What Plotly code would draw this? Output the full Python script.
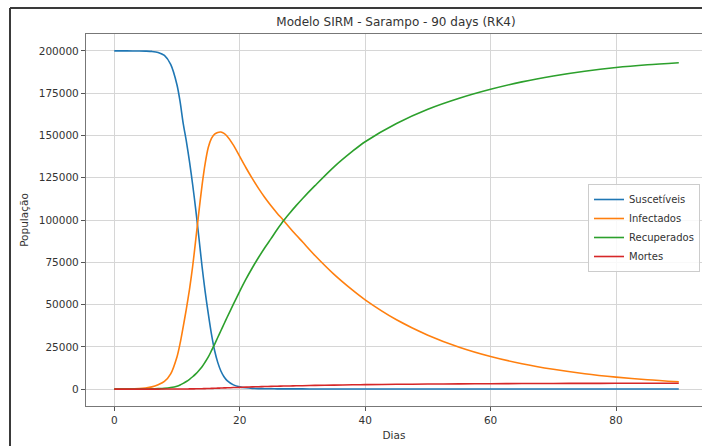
import plotly.graph_objects as go

days = [0, 2, 4, 5, 6, 7, 8, 9, 10, 10.5, 11, 11.5, 12, 12.5, 13, 13.5, 14, 14.5,
        15, 15.5, 16, 16.5, 17, 17.5, 18, 19, 20, 21, 22, 23, 24, 25, 26, 27, 28,
        29, 30, 32, 35, 38, 40, 45, 50, 55, 60, 65, 70, 75, 80, 85, 90]

suscetiveis = [200000, 200000, 199950, 199880, 199700, 199100, 197300, 192000, 180000,
               170000, 157000, 146500, 134500, 121000, 106000, 89500, 72500, 57500,
               44500, 32500, 22800, 15800, 10700, 7300, 5000, 2500, 1300, 750, 430, 290,
               220, 180, 150, 130, 120, 110, 100, 90, 80, 75, 70, 65, 60, 58, 56, 55,
               55, 54, 54, 53, 53]

infectados = [10, 60, 300, 650, 1300, 2600, 4500, 9000, 19000, 27000, 37000, 47500,
              59000, 72500, 88500, 105000, 120500, 133500, 143000, 148300, 150800,
              151800, 152000, 151200, 149500, 144300, 137600, 130900, 124600, 118700,
              113300, 108400, 103900, 99700, 95300, 91100, 87100, 79000, 68000, 58500,
              52800, 41000, 31900, 24800, 19300, 15000, 11700, 9100, 7100, 5500, 4300]

recuperados = [0, 2, 20, 50, 120, 250, 450, 900, 1700, 2400, 3400, 4500, 5800, 7300,
               9000, 11000, 13200, 16000, 19000, 22700, 26500, 30500, 34500, 38500,
               42500, 50200, 57800, 65000, 71600, 77800, 83600, 89000, 94500, 99700,
               104200, 108500, 112600, 120300, 131300, 140700, 146300, 157100, 165500,
               172000, 177300, 181700, 185200, 188000, 190200, 191800, 193000]

mortes = [0, 0, 0, 1, 2, 5, 10, 20, 35, 45, 60, 80, 100, 130, 160, 195, 240, 290, 350,
          410, 480, 550, 620, 690, 760, 900, 1030, 1170, 1290, 1400, 1500, 1590, 1690,
          1790, 1870, 1950, 2020, 2170, 2360, 2530, 2640, 2820, 2970, 3100, 3200, 3280,
          3340, 3390, 3420, 3450, 3470]

series = [("Suscetíveis", suscetiveis, "#1f77b4"),
          ("Infectados", infectados, "#ff7f0e"),
          ("Recuperados", recuperados, "#2ca02c"),
          ("Mortes", mortes, "#d62728")]

xticks = [0, 20, 40, 60, 80]
yticks = [0, 25000, 50000, 75000, 100000, 125000, 150000, 175000, 200000]

FONT = "DejaVu Sans"
TXT = "#333333"

fig = go.Figure()
for name, vals, col in series:
    fig.add_trace(go.Scatter(x=days, y=vals, mode="lines", name=name,
                             line=dict(color=col, width=1.6, shape="spline", smoothing=0.8)))

W, H = 702, 446
L, R, T, B = 86, 0, 34, 40

fig.update_layout(
    width=W, height=H,
    margin=dict(l=L, r=R, t=T, b=B, autoexpand=False),
    paper_bgcolor="white", plot_bgcolor="white",
    font=dict(family=FONT, size=11, color=TXT),
    title=dict(text="Modelo SIRM - Sarampo - 90 days (RK4)",
               x=396 / W, xref="container", xanchor="center",
               y=1 - 22 / H, yref="container", yanchor="middle",
               font=dict(family=FONT, size=12, color=TXT)),
    legend=dict(x=(588 - L) / (W - L - R), y=(H - B - 184) / (H - T - B),
                xanchor="left", yanchor="top",
                bgcolor="rgba(255,255,255,0.85)", bordercolor="#cccccc", borderwidth=1,
                font=dict(family=FONT, size=10, color=TXT), itemwidth=30),
    showlegend=True,
)

fig.update_xaxes(range=[-4.5, 93.7], tickvals=xticks, ticks="outside", ticklen=4,
                 tickcolor="#555555", showline=True, linecolor="#777777", linewidth=1.2,
                 mirror=True, showgrid=True, gridcolor="#d6d6d6", gridwidth=1,
                 zeroline=False, tickfont=dict(size=10.5),
                 title=dict(text="Dias", standoff=6, font=dict(size=10.5)))
fig.update_yaxes(range=[-10000, 210000], tickvals=yticks, tickformat="d",
                 ticks="outside", ticklen=4, tickcolor="#555555", showline=True,
                 linecolor="#777777", linewidth=1.2, showgrid=True, gridcolor="#d6d6d6",
                 gridwidth=1, zeroline=False, tickfont=dict(size=10.5),
                 title=dict(text="População", standoff=8, font=dict(size=10.5)))

# outer frame of the screenshot (top and left edges)
pw, ph = W - L - R, H - T - B
fx = (10 - L) / pw
fy = (H - B - 8) / ph
fig.add_shape(type="line", xref="paper", yref="paper", x0=fx, x1=(W - L) / pw + 0.01,
              y0=fy, y1=fy, line=dict(color="#3a3a3a", width=2))
fig.add_shape(type="line", xref="paper", yref="paper", x0=fx, x1=fx,
              y0=fy, y1=(H - B - H - 5) / ph, line=dict(color="#3a3a3a", width=2))

fig.write_html("out.html")
